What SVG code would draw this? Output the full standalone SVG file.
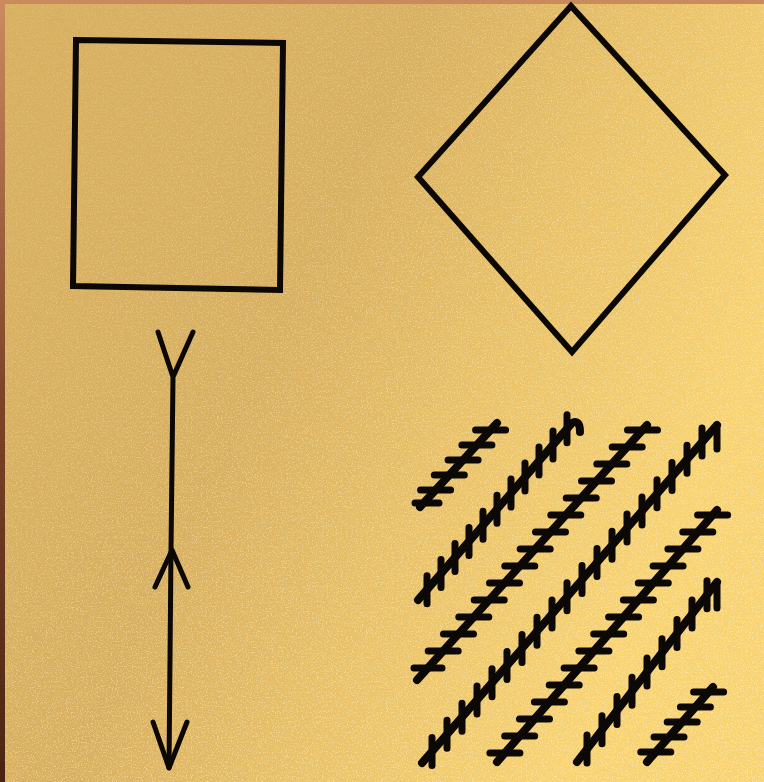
<svg xmlns="http://www.w3.org/2000/svg" width="764" height="782" viewBox="0 0 764 782">
<style>
.ink{fill:none;stroke:#0b0806;stroke-linecap:round;stroke-linejoin:round}
.outline{stroke-width:6;stroke-linejoin:miter;stroke-linecap:square}
.shaft{stroke-width:5}
.hl{stroke-width:8}
.tk{stroke-width:7}
</style>
<defs>
<linearGradient id="bg" x1="0.4" y1="0.35" x2="0.92" y2="0.6">
<stop offset="0" stop-color="#d8b062"/>
<stop offset="0.45" stop-color="#e8c16a"/>
<stop offset="1" stop-color="#f8d374"/>
</linearGradient>
<linearGradient id="lb" x1="0" y1="0" x2="0" y2="1">
<stop offset="0" stop-color="#c98b5e"/>
<stop offset="0.5" stop-color="#7e4428"/>
<stop offset="1" stop-color="#4a2410"/>
</linearGradient>
<filter id="grain" x="0" y="0" width="1" height="1">
<feTurbulence type="fractalNoise" baseFrequency="0.8" numOctaves="2" seed="3" result="n"/>
<feColorMatrix in="n" type="matrix" values="0 0 0 0 0.97  0 0 0 0 0.84  0 0 0 0 0.5  0 0 0 6 -3.2"/>
</filter>
<linearGradient id="gm" x1="0" y1="0" x2="1" y2="1">
<stop offset="0" stop-color="#fff" stop-opacity="0.2"/>
<stop offset="0.5" stop-color="#fff" stop-opacity="0.6"/>
<stop offset="1" stop-color="#fff" stop-opacity="0.9"/>
</linearGradient>
<mask id="m"><rect width="764" height="782" fill="url(#gm)"/></mask>
</defs>
<rect x="0" y="0" width="764" height="782" fill="url(#bg)"/>
<rect x="0" y="0" width="764" height="782" filter="url(#grain)" mask="url(#m)" opacity="0.7"/>
<rect x="0" y="0" width="764" height="4" fill="#c98b5e"/>
<rect x="0" y="0" width="5" height="782" fill="url(#lb)"/>

<g id="square">
<path class="ink outline" d="M76 40 L283 43 L280 290 L73 286 Z"/>
</g>
<g id="diamond">
<path class="ink outline" d="M571 6 L725 175 L572 352 L418 177 Z"/>
</g>
<g id="arrow">
<path class="ink shaft" d="M158 332 L173 377 L193 332 M173 377 L171 550 L169 768"/>
<path class="ink shaft" d="M155 587 L172 550 L188 587"/>
<path class="ink shaft" d="M153 722 L169 768 L187 722"/>
</g>
<g id="hatch">
<path class="ink hl" d="M420 507 L497 423"/>
<path class="ink tk" d="M475.6 430h30M461.9 445h30M448.1 460h30M434.3 475h30M420.6 490h30M415 503h24"/>

<path class="ink hl" d="M418 600 L572 423 Q580 419 580 432"/>
<path class="ink tk" d="M427 575.7v28M441 559.6v28M455 543.5v28M469 527.4v28M483 511.3v28M497 495.2v28M511 479.1v28M525 463.1v28M539 447v28M553 430.9v28M567 414.8v28"/>

<path class="ink hl" d="M417 680 L647 425"/>
<path class="ink tk" d="M627.5 430h30M612.2 447h30M596.8 464h30M581.5 481h30M566.2 498h30M550.8 515h30M535.5 532h30M520.2 549h30M504.8 566h30M489.5 583h30M474.2 600h30M458.8 617h30M443.5 634h30M428.2 651h30M414 668h28"/>

<path class="ink hl" d="M422 763 L717 425"/>
<path class="ink tk" d="M432 737.5v28M447 720.3v28M462 703.2v28M477 686v28M492 668.8v28M507 651.6v28M522 634.4v28M537 617.2v28M552 600v28M567 582.8v28M582 565.6v28M597 548.4v28M612 531.3v28M627 514.1v28M642 496.9v28M657 479.7v28M672 462.5v28M687 445.3v28M702 428.1v28M717 425v24"/>

<path class="ink hl" d="M497 762 L717 510"/>
<path class="ink tk" d="M697.6 515h30M682.8 532h30M667.9 549h30M653.1 566h30M638.3 583h30M623.4 600h30M608.6 617h30M593.7 634h30M578.9 651h30M564.1 668h30M549.2 685h30M534.4 702h30M519.5 719h30M504.7 736h30M489.9 753h30"/>

<path class="ink hl" d="M577 762 L717 582"/>
<path class="ink tk" d="M587 735.1v28M602 715.8v28M617 696.6v28M632 677.3v28M647 658v28M662 638.7v28M677 619.4v28M692 600.1v28M707 580.8v28M717 582v26"/>

<path class="ink hl" d="M647 762 L713 687"/>
<path class="ink tk" d="M693.6 692h30M680.4 707h30M667.2 722h30M654 737h30M640.8 752h30"/>
</g>
</svg>
